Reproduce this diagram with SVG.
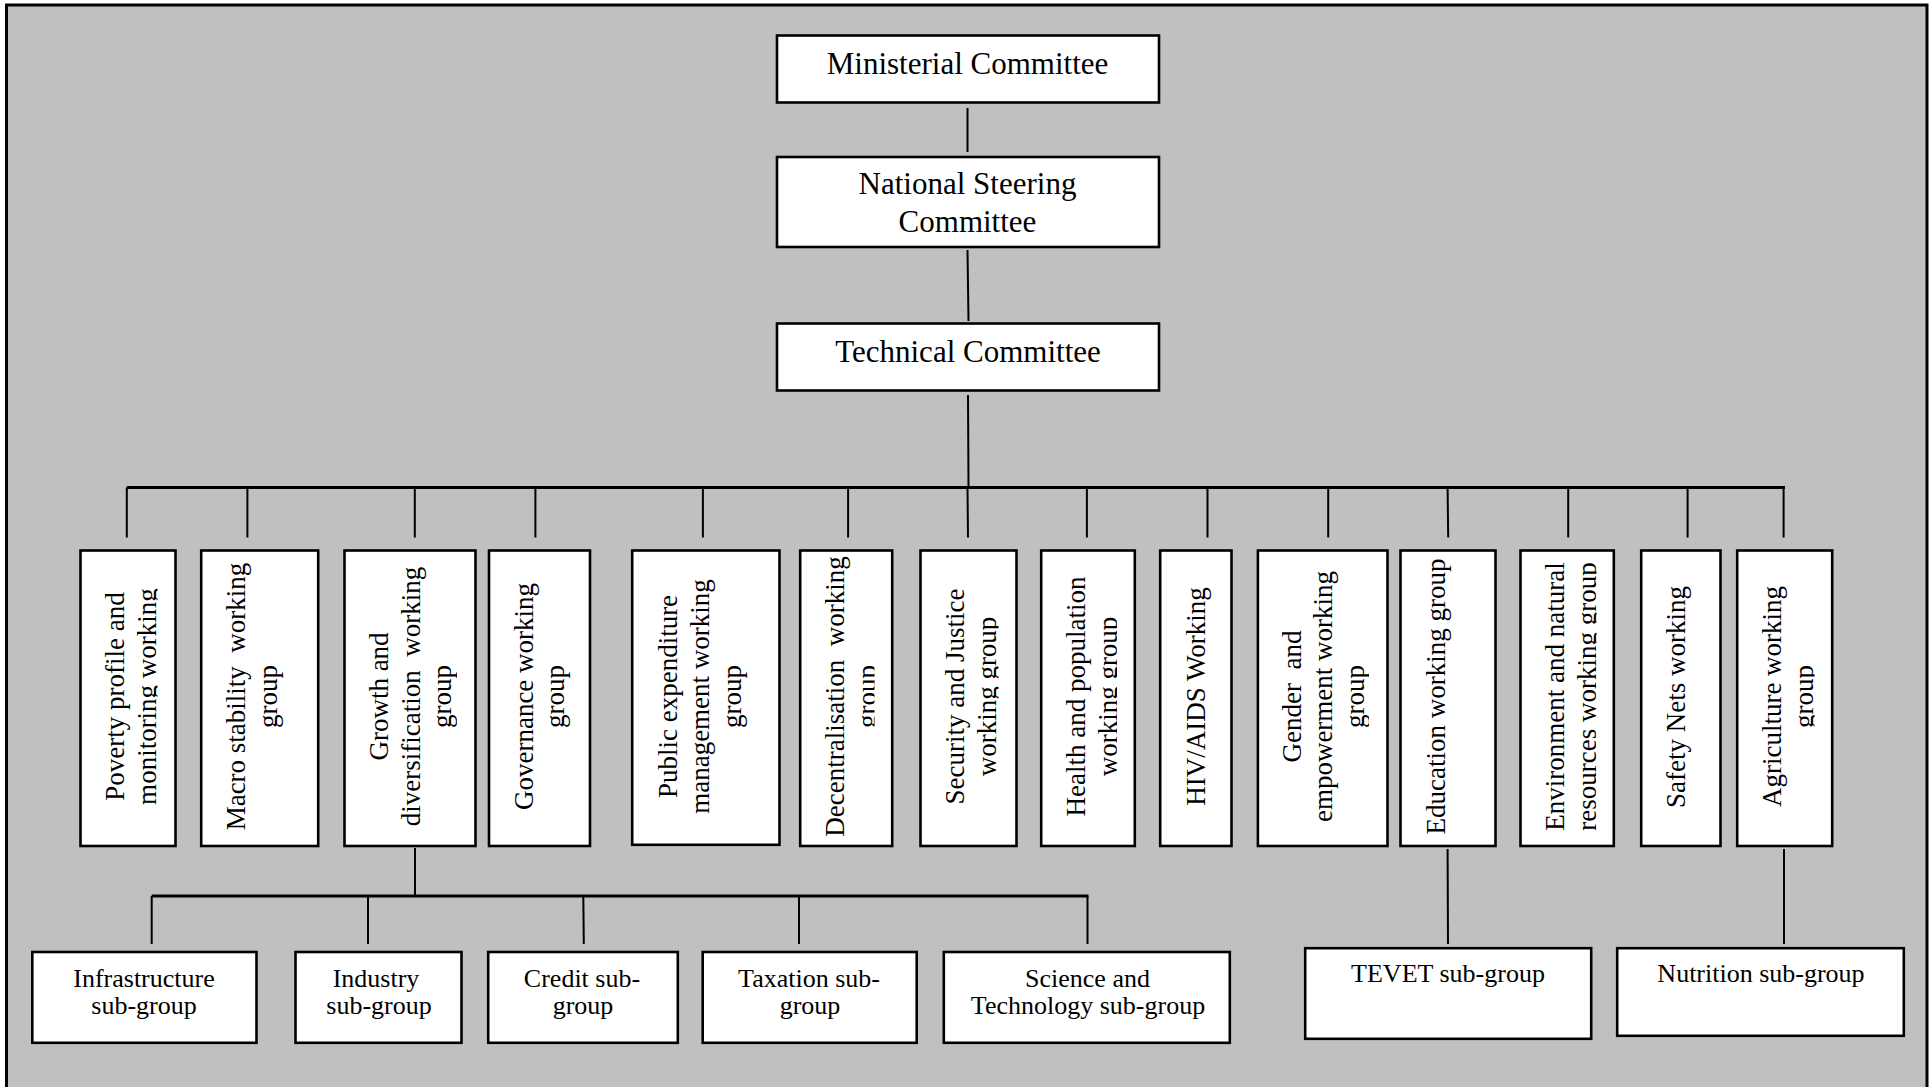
<svg xmlns="http://www.w3.org/2000/svg" width="1930" height="1087" viewBox="0 0 1930 1087">
<style>
.bg{fill:#c0c0c0;stroke:#000;stroke-width:3}
.box{fill:#fff;stroke:#000;stroke-width:2.6}
.ln{stroke:#000;stroke-width:2;fill:none}
.bar{stroke:#000;stroke-width:2.8;fill:none}
text{font-family:"Liberation Serif","Times New Roman",serif;fill:#000}
.t1{font-size:31px;text-anchor:middle}
.wg{font-size:27px;text-anchor:middle}
.sg{font-size:26px;text-anchor:middle}
</style>
<defs>
<clipPath id="c1"><rect x="79" y="549" width="78.5" height="298"/></clipPath>
<clipPath id="c2"><rect x="200" y="549" width="100" height="298"/></clipPath>
<clipPath id="c3"><rect x="343" y="549" width="114" height="298"/></clipPath>
<clipPath id="c4"><rect x="488" y="549" width="84" height="298"/></clipPath>
<clipPath id="c5"><rect x="631" y="549" width="130.5" height="298"/></clipPath>
<clipPath id="c6"><rect x="799" y="549" width="75.5" height="298"/></clipPath>
<clipPath id="c7"><rect x="919" y="549" width="79.5" height="298"/></clipPath>
<clipPath id="c8"><rect x="1040" y="549" width="77" height="298"/></clipPath>
<clipPath id="c9"><rect x="1159" y="549" width="55" height="298"/></clipPath>
<clipPath id="c10"><rect x="1256" y="549" width="113" height="298"/></clipPath>
<clipPath id="c11"><rect x="1399" y="549" width="78.5" height="298"/></clipPath>
<clipPath id="c12"><rect x="1519" y="549" width="77.5" height="298"/></clipPath>
<clipPath id="c13"><rect x="1640" y="549" width="63" height="298"/></clipPath>
<clipPath id="c14"><rect x="1736" y="549" width="78.5" height="298"/></clipPath>
</defs>

<rect class="bg" x="6.5" y="5" width="1920.5" height="1100"/>

<g id="connectors">
<line class="ln" x1="967.5" y1="108" x2="967.5" y2="152"/>
<line class="ln" x1="967.5" y1="250" x2="968.5" y2="321"/>
<line class="ln" x1="968" y1="395" x2="968.5" y2="487"/>
<line class="bar" x1="126.8" y1="487.5" x2="1785" y2="487.5"/>
<line class="ln" x1="126.8" y1="487.5" x2="126.8" y2="537.5"/>
<line class="ln" x1="247.4" y1="487.5" x2="247.4" y2="537.5"/>
<line class="ln" x1="414.8" y1="487.5" x2="414.8" y2="537.5"/>
<line class="ln" x1="535.4" y1="487.5" x2="535.4" y2="537.5"/>
<line class="ln" x1="702.9" y1="487.5" x2="702.9" y2="537.5"/>
<line class="ln" x1="848.1" y1="487.5" x2="848.1" y2="537.5"/>
<line class="ln" x1="967.5" y1="487.5" x2="968" y2="537.5"/>
<line class="ln" x1="1086.9" y1="487.5" x2="1086.9" y2="537.5"/>
<line class="ln" x1="1207.5" y1="487.5" x2="1207.5" y2="537.5"/>
<line class="ln" x1="1328.2" y1="487.5" x2="1328.2" y2="537.5"/>
<line class="ln" x1="1447.6" y1="487.5" x2="1448.2" y2="537.5"/>
<line class="ln" x1="1568.2" y1="487.5" x2="1568.2" y2="537.5"/>
<line class="ln" x1="1687.6" y1="487.5" x2="1687.6" y2="537.5"/>
<line class="ln" x1="1783.6" y1="487.5" x2="1783.6" y2="537.5"/>
<line class="ln" x1="415" y1="848" x2="415" y2="896"/>
<line class="bar" x1="151.7" y1="896" x2="1088.5" y2="896"/>
<line class="ln" x1="151.7" y1="896" x2="151.7" y2="944"/>
<line class="ln" x1="368" y1="896" x2="368" y2="944"/>
<line class="ln" x1="583.3" y1="896" x2="583.8" y2="944"/>
<line class="ln" x1="799" y1="896" x2="799" y2="944"/>
<line class="ln" x1="1087.5" y1="896" x2="1087.5" y2="944"/>
<line class="ln" x1="1447.6" y1="849" x2="1448" y2="944"/>
<line class="ln" x1="1784" y1="849" x2="1784" y2="944"/>
</g>

<g id="n-ministerial">
<rect class="box" x="777" y="35.5" width="382" height="67"/>
<text class="t1" x="967.5" y="74">Ministerial Committee</text>
</g>
<g id="n-national-steering">
<rect class="box" x="777" y="157" width="382" height="90"/>
<text class="t1" x="967.5" y="194">National Steering</text>
<text class="t1" x="967.5" y="231.5">Committee</text>
</g>
<g id="n-technical">
<rect class="box" x="777" y="323.5" width="382" height="67"/>
<text class="t1" x="968" y="361.5">Technical Committee</text>
</g>

<g id="n-poverty">
<rect class="box" x="80.5" y="550.5" width="95" height="295.5"/>
<g clip-path="url(#c1)"><g transform="translate(79.3,696.5) rotate(-90)">
<text class="wg" x="0" y="45">Poverty profile and</text>
<text class="wg" x="0" y="76.5">monitoring working</text>
</g></g>
</g>
<g id="n-macro">
<rect class="box" x="201.2" y="550.5" width="117" height="295.5"/>
<g clip-path="url(#c2)"><g transform="translate(200,696.5) rotate(-90)">
<text class="wg" x="0" y="45">Macro stability&#160; working</text>
<text class="wg" x="0" y="76.5">group</text>
</g></g>
</g>
<g id="n-growth">
<rect class="box" x="344.5" y="550.5" width="131" height="295.5"/>
<g clip-path="url(#c3)"><g transform="translate(343.3,696.5) rotate(-90)">
<text class="wg" x="0" y="45">Growth and</text>
<text class="wg" x="0" y="76.5">diversification&#160; working</text>
<text class="wg" x="0" y="108">group</text>
</g></g>
</g>
<g id="n-governance">
<rect class="box" x="489" y="550.5" width="101" height="295.5"/>
<g clip-path="url(#c4)"><g transform="translate(487.7,696.5) rotate(-90)">
<text class="wg" x="0" y="45">Governance working</text>
<text class="wg" x="0" y="76.5">group</text>
</g></g>
</g>
<g id="n-public-expenditure">
<rect class="box" x="632.2" y="550.5" width="147.3" height="294.3"/>
<g clip-path="url(#c5)"><g transform="translate(631,696.5) rotate(-90)">
<text class="wg" x="0" y="46">Public expenditure</text>
<text class="wg" x="0" y="78">management working</text>
<text class="wg" x="0" y="110">group</text>
</g></g>
</g>
<g id="n-decentralisation">
<rect class="box" x="800.2" y="550.5" width="92" height="295.5"/>
<g clip-path="url(#c6)"><g transform="translate(799,696.5) rotate(-90)">
<text class="wg" x="0" y="45">Decentralisation&#160; working</text>
<text class="wg" x="0" y="76.5">group</text>
</g></g>
</g>
<g id="n-security">
<rect class="box" x="920.5" y="550.5" width="96" height="295.5"/>
<g clip-path="url(#c7)"><g transform="translate(919.3,696.5) rotate(-90)">
<text class="wg" x="0" y="45">Security and Justice</text>
<text class="wg" x="0" y="76.5">working group</text>
</g></g>
</g>
<g id="n-health">
<rect class="box" x="1041.2" y="550.5" width="93.6" height="295.5"/>
<g clip-path="url(#c8)"><g transform="translate(1040,696.5) rotate(-90)">
<text class="wg" x="0" y="45">Health and population</text>
<text class="wg" x="0" y="76.5">working group</text>
</g></g>
</g>
<g id="n-hiv">
<rect class="box" x="1160.2" y="550.5" width="71.3" height="295.5"/>
<g clip-path="url(#c9)"><g transform="translate(1159,696.5) rotate(-90)">
<text class="wg" x="0" y="45.5">HIV/AIDS Working</text>
</g></g>
</g>
<g id="n-gender">
<rect class="box" x="1257.9" y="550.5" width="129.6" height="295.5"/>
<g clip-path="url(#c10)"><g transform="translate(1256.7,696.5) rotate(-90)">
<text class="wg" x="0" y="44">Gender&#160; and</text>
<text class="wg" x="0" y="75.5">empowerment working</text>
<text class="wg" x="0" y="107">group</text>
</g></g>
</g>
<g id="n-education">
<rect class="box" x="1400.5" y="550.5" width="95" height="295.5"/>
<g clip-path="url(#c11)"><g transform="translate(1399.3,696.5) rotate(-90)">
<text class="wg" x="0" y="46">Education working group</text>
</g></g>
</g>
<g id="n-environment">
<rect class="box" x="1520.5" y="550.5" width="93.3" height="295.5"/>
<g clip-path="url(#c12)"><g transform="translate(1519.3,696.5) rotate(-90)">
<text class="wg" x="0" y="45">Environment and natural</text>
<text class="wg" x="0" y="76.5">resources working group</text>
</g></g>
</g>
<g id="n-safety-nets">
<rect class="box" x="1641.2" y="550.5" width="79.3" height="295.5"/>
<g clip-path="url(#c13)"><g transform="translate(1640,697) rotate(-90)">
<text class="wg" x="0" y="45">Safety Nets working</text>
</g></g>
</g>
<g id="n-agriculture">
<rect class="box" x="1737.2" y="550.5" width="95" height="295.5"/>
<g clip-path="url(#c14)"><g transform="translate(1736,696.5) rotate(-90)">
<text class="wg" x="0" y="45">Agriculture working</text>
<text class="wg" x="0" y="76.5">group</text>
</g></g>
</g>

<g id="n-infrastructure">
<rect class="box" x="32.3" y="952" width="224.2" height="90.8"/>
<text class="sg" x="144" y="987">Infrastructure</text>
<text class="sg" x="144" y="1014">sub-group</text>
</g>
<g id="n-industry">
<rect class="box" x="295.5" y="952" width="166" height="90.8"/>
<text class="sg" x="376" y="987">Industry</text>
<text class="sg" x="379" y="1014">sub-group</text>
</g>
<g id="n-credit">
<rect class="box" x="488.2" y="952" width="189.6" height="90.8"/>
<text class="sg" x="582" y="987">Credit sub-</text>
<text class="sg" x="583" y="1014">group</text>
</g>
<g id="n-taxation">
<rect class="box" x="702.7" y="952" width="214" height="90.8"/>
<text class="sg" x="809" y="987">Taxation sub-</text>
<text class="sg" x="810" y="1014">group</text>
</g>
<g id="n-science">
<rect class="box" x="943.8" y="952" width="286" height="90.8"/>
<text class="sg" x="1087.5" y="987">Science and</text>
<text class="sg" x="1088" y="1014">Technology sub-group</text>
</g>
<g id="n-tevet">
<rect class="box" x="1305.2" y="948.2" width="286" height="90.6"/>
<text class="sg" x="1448" y="982">TEVET sub-group</text>
</g>
<g id="n-nutrition">
<rect class="box" x="1617.2" y="948.2" width="286.6" height="87.6"/>
<text class="sg" x="1761" y="982">Nutrition sub-group</text>
</g>
</svg>
